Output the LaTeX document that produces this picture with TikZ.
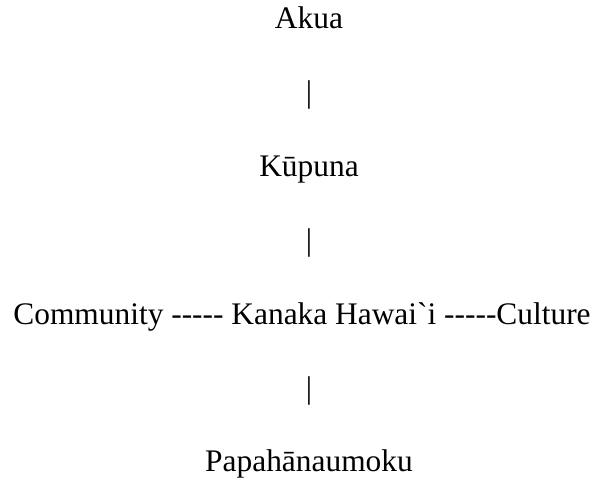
\documentclass[tikz,border=0pt]{standalone}
\usepackage{fontspec}
\setmainfont{Liberation Serif}[Ligatures=TeXOff]
\begin{document}
\begin{tikzpicture}[x=1pt,y=1pt,
  lbl/.style={anchor=base,inner sep=0pt,font=\fontsize{31.4}{37}\selectfont}]
\useasboundingbox (0,0) rectangle (604,478);
\node[lbl] (akua) at (309,449) {Akua};
\node[lbl] (bar1) at (309,375) {|};
\node[lbl] (kupuna) at (309,301) {Kūpuna};
\node[lbl] (bar2) at (309,227) {|};
\node[lbl] (mid) at (302,153) {Community ----- Kanaka Hawai`i -----Culture};
\node[lbl] (bar3) at (309,79) {|};
\node[lbl] (papa) at (309,6) {Papahānaumoku};
\end{tikzpicture}
\end{document}
